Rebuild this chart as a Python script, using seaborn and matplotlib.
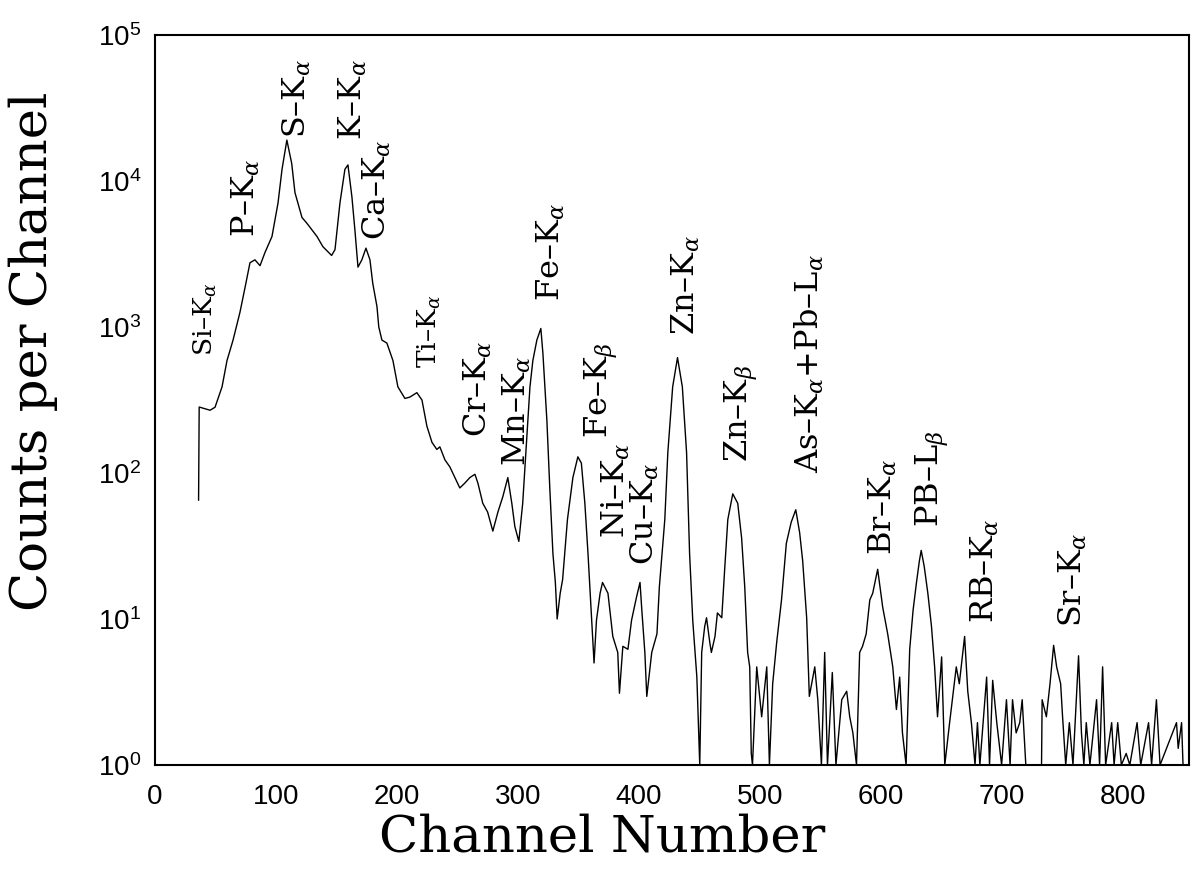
import matplotlib
matplotlib.use("Agg")
import matplotlib.pyplot as plt
import seaborn as sns
import pandas as pd

# spectrum: channel number and counts per channel
channel = [
    36, 36.5, 45.5, 49.6, 55.4, 59.5, 64.5, 70.2, 74.4, 78.5,
    82.6, 86.8, 90.9, 96.7, 101.7, 105, 109, 113, 115.7, 121.5,
    125.6, 133.9, 138.8, 146, 148.8, 152.9, 157, 159.5, 162.8, 165.3,
    167.8, 171, 174.4, 177.7, 180, 183.5, 185, 187.6, 191.7, 196.7,
    200.8, 206.6, 210.7, 216.5, 220.7, 224.8, 229, 233, 235.5, 239.7,
    243.8, 248, 252, 256, 260.3, 264.5, 267, 271, 275, 279.3,
    283.5, 287.6, 291.7, 295, 297.5, 300.8, 304, 307.4, 310, 312.4,
    315.7, 319, 320.7, 324, 326.4, 329, 331, 332.5, 335, 337,
    341, 345.5, 349.6, 352.5, 355.4, 358, 361, 363, 365, 368,
    370, 374.5, 378.5, 382.6, 384, 386.8, 391, 394, 398, 401,
    402.5, 405, 406.6, 410.7, 415, 417, 421.5, 424, 428, 432,
    436, 439.5, 442, 444.6, 448, 450.4, 452, 454.5, 456, 458.7,
    460, 463, 465, 468.6, 471, 473.6, 477.7, 481.8, 485, 487.6,
    490, 491.7, 493, 494, 497.5, 501.6, 505.8, 508, 510.7, 514,
    518, 522, 526, 529.8, 533, 535.5, 538.8, 541, 545.5, 548,
    551, 553.7, 556, 560, 563, 567.8, 571.9, 574.4, 577, 580,
    582.6, 585, 588, 591, 593.4, 597.5, 601.7, 605.8, 610, 613,
    615.7, 618, 621, 624, 626.8, 629.6, 632, 633.5, 636, 639,
    642, 644.6, 647, 650.4, 653, 657, 662.5, 665, 669.4, 672,
    675, 678, 680, 682, 687.6, 690, 692.6, 696, 700, 704,
    707, 709, 712, 715, 717, 720, 733, 733.5, 737, 740,
    743, 745.5, 748.8, 750.4, 753, 756, 759, 763.6, 766, 768,
    770, 773, 778.5, 781, 783.5, 786, 791, 793, 796, 799,
    803, 806, 812, 815, 821.5, 824, 828, 831, 844.6, 846,
    848.8, 850,
]
counts = [
    65, 283, 269, 282, 389, 589, 813, 1259, 1862, 2754,
    2884, 2630, 3236, 4169, 7079, 12023, 19055, 13183, 8318, 5623,
    5129, 4169, 3548, 3090, 3388, 7079, 12023, 12882, 7762, 4571,
    2570, 2884, 3467, 2884, 1995, 1380, 1000, 813, 776, 589,
    389, 324, 331, 355, 316, 209, 162, 145, 151, 123,
    110, 93, 79, 85, 93, 98, 85, 62, 54, 40,
    54, 69, 93, 62, 43, 34, 62, 178, 389, 589,
    813, 977, 661, 229, 79, 28, 17.8, 10, 15, 18.6,
    48, 93, 129, 117, 62, 28, 9.8, 5.0, 9.8, 15,
    17.8, 15, 7.6, 5.9, 3.1, 6.5, 6.2, 9.8, 14, 17.8,
    11.5, 5.9, 2.95, 5.9, 7.9, 16.6, 48, 138, 389, 617,
    389, 138, 28, 9.8, 4.0, 1.0, 5.9, 8.9, 10.2, 6.9,
    5.9, 7.6, 11, 10.2, 21.9, 48, 72, 62, 36, 16.6,
    5.9, 4.7, 1.2, 1.0, 4.7, 2.14, 4.7, 1.0, 3.6, 6.9,
    13.5, 33, 46, 56, 39, 25, 10.2, 2.95, 4.7, 2.8,
    1.0, 5.9, 1.0, 4.3, 1.0, 2.8, 3.2, 2.14, 1.66, 1.0,
    5.9, 6.5, 7.9, 13.5, 15, 21.9, 12, 7.9, 4.7, 2.4,
    4.0, 1.66, 1.0, 6.2, 11.5, 17.8, 25, 29.5, 22.9, 15,
    8.9, 4.7, 2.14, 5.5, 1.0, 1.95, 4.7, 3.6, 7.6, 3.2,
    1.95, 1.0, 1.95, 1.0, 4.0, 1.0, 3.8, 1.95, 1.0, 2.8,
    1.0, 2.8, 1.66, 1.95, 2.8, 1.0, 1.0, 2.8, 2.14, 3.6,
    6.6, 4.7, 3.6, 2.14, 1.0, 1.95, 1.0, 5.6, 1.66, 1.0,
    1.95, 1.0, 2.8, 1.0, 4.7, 1.0, 1.95, 1.0, 1.95, 1.0,
    1.2, 1.0, 1.95, 1.0, 1.95, 1.0, 2.8, 1.0, 1.95, 1.3,
    1.95, 1.0,
]

# peak labels and where they sit (channel, counts at the label's lower end)
peak_labels = [
    "Si\u2013K$_\\alpha$", "P\u2013K$_\\alpha$", "S\u2013K$_\\alpha$",
    "K\u2013K$_\\alpha$", "Ca\u2013K$_\\alpha$", "Ti\u2013K$_\\alpha$",
    "Cr\u2013K$_\\alpha$", "Mn\u2013K$_\\alpha$", "Fe\u2013K$_\\alpha$",
    "Fe\u2013K$_\\beta$", "Ni\u2013K$_\\alpha$", "Cu\u2013K$_\\alpha$",
    "Zn\u2013K$_\\alpha$", "Zn\u2013K$_\\beta$",
    "As\u2013K$_\\alpha$+Pb\u2013L$_\\alpha$", "Br\u2013K$_\\alpha$",
    "PB\u2013L$_\\beta$", "RB\u2013K$_\\alpha$", "Sr\u2013K$_\\alpha$",
]
label_channel = [42, 75, 117, 164, 183.5, 227, 267, 299, 327,
                 369, 381, 405, 439, 485, 541, 602, 643, 686, 759]
label_counts = [631, 4130, 19700, 19100, 3945, 523, 176, 112, 1507,
                173, 35.9, 23.4, 881, 119, 100, 27.4, 42.7, 9.4, 8.8]
small_labels = ["Si\u2013K$_\\alpha$", "Ti\u2013K$_\\alpha$"]

x_ticks = [0, 100, 200, 300, 400, 500, 600, 700, 800]
y_ticks = [1, 10, 100, 1000, 10000, 100000]
y_tick_labels = ["$\\mathregular{10^{%d}}$" % i for i in range(6)]

df = pd.DataFrame({"Channel": channel, "Counts": counts})

sns.set_style("white")
plt.rcParams["mathtext.fontset"] = "dejavuserif"

fig = plt.figure(figsize=(12, 8.72), dpi=100)
ax = fig.add_axes([0.1292, 0.1227, 0.8617, 0.8372])

sns.lineplot(
    data=df,
    x="Channel",
    y="Counts",
    estimator=None,
    sort=False,
    color="black",
    linewidth=1.0,
    ax=ax,
)

ax.set_yscale("log")
ax.set_xlim(0, 855)
ax.set_ylim(1, 1e5)

ax.set_xticks(x_ticks)
ax.set_xticklabels([str(t) for t in x_ticks])
ax.set_yticks(y_ticks)
ax.set_yticklabels(y_tick_labels)
ax.minorticks_off()

ax.tick_params(axis="both", direction="in", length=10, width=1.3,
               color="black", labelcolor="black", labelsize=20)
ax.tick_params(axis="x", pad=14)
ax.tick_params(axis="y", pad=10)
for lab in ax.get_xticklabels() + ax.get_yticklabels():
    lab.set_family("Liberation Sans")

for side in ["left", "right", "top", "bottom"]:
    ax.spines[side].set_visible(True)
    ax.spines[side].set_color("black")
    ax.spines[side].set_linewidth(1.5)

ax.set_xlabel("Channel Number", fontsize=37, family="DejaVu Serif",
              color="black")
ax.set_ylabel("Counts per Channel", fontsize=37, family="DejaVu Serif",
              color="black")
ax.xaxis.set_label_coords(0.432, -0.066)
ax.yaxis.set_label_coords(-0.094, 0.566)

for text, cx, cy in zip(peak_labels, label_channel, label_counts):
    size = 19 if text in small_labels else 23
    ax.text(cx, cy, text, rotation=90, ha="center", va="bottom",
            fontsize=size, family="DejaVu Serif", color="black")

fig.savefig("out.png", dpi=100, facecolor="white")
